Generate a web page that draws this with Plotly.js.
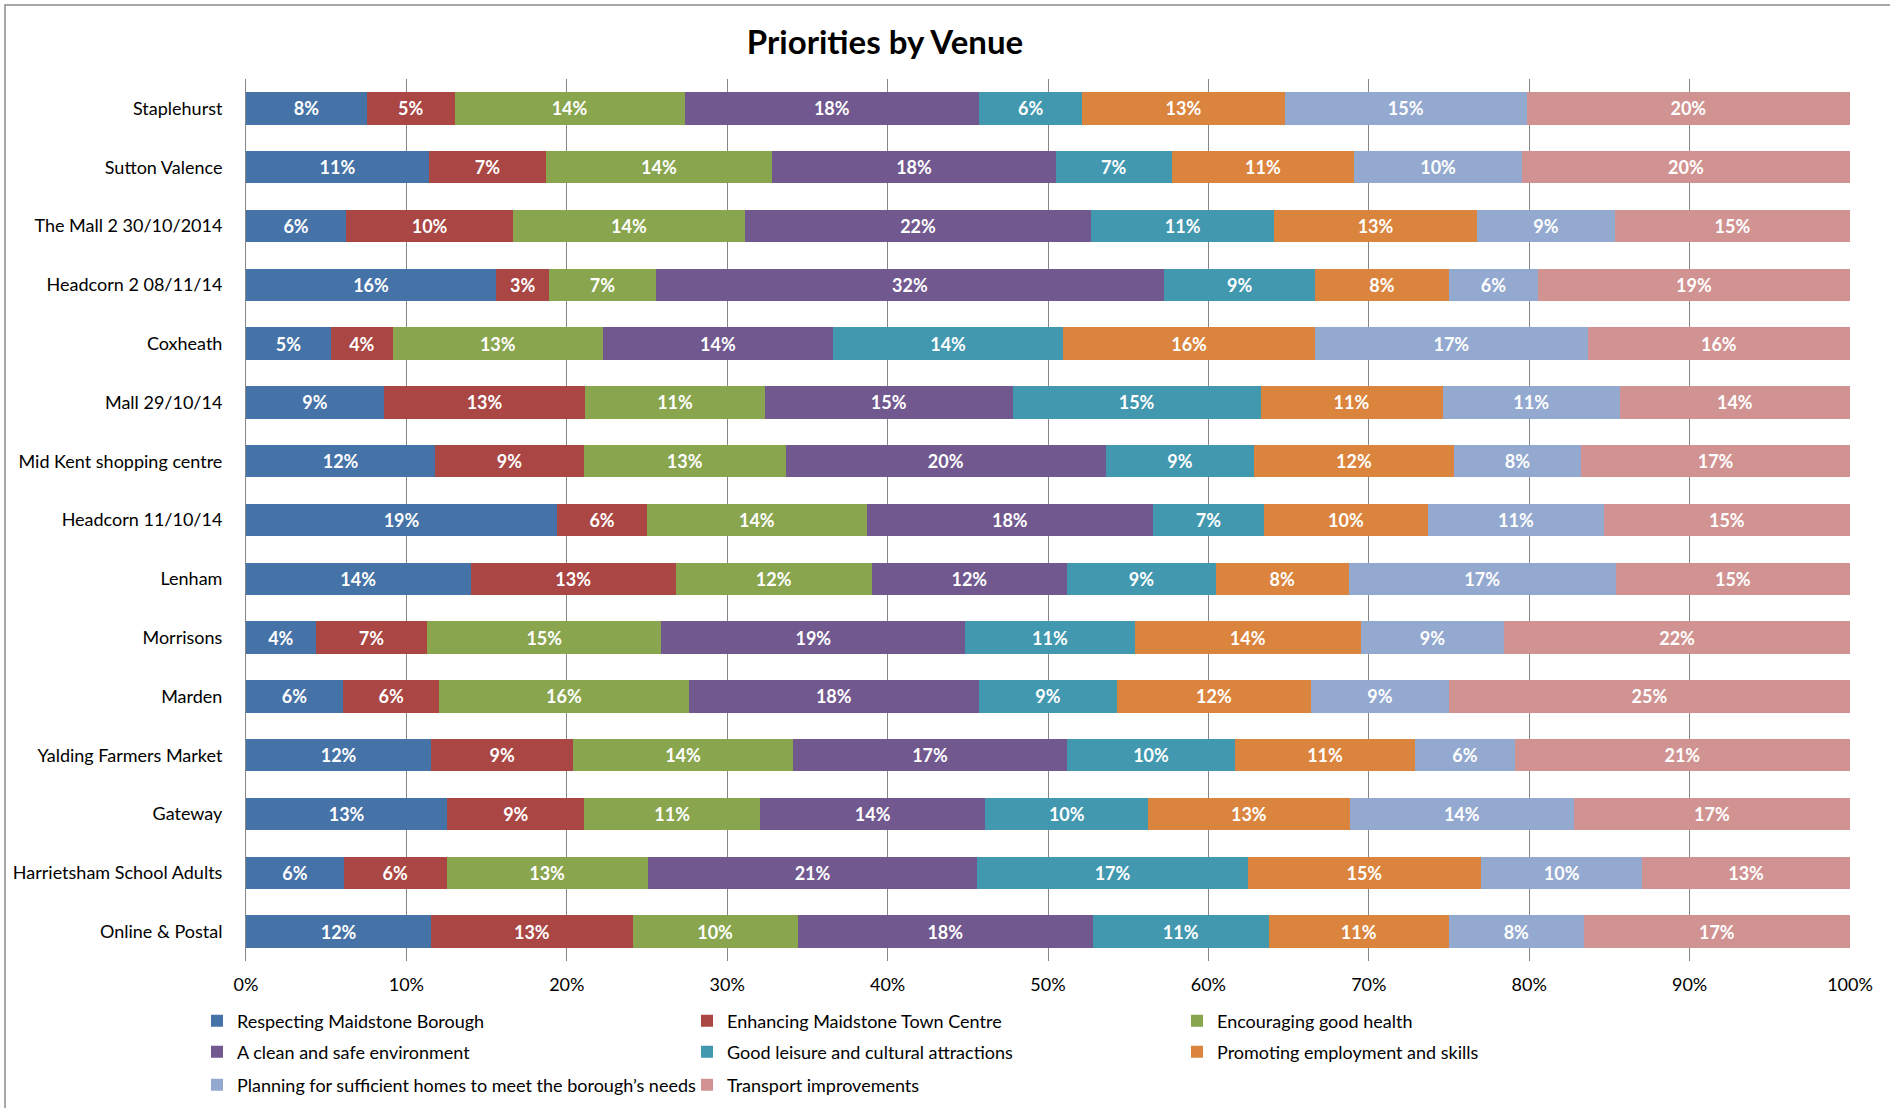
<!DOCTYPE html>
<html>
<head>
<meta charset="utf-8">
<script src="https://cdn.plot.ly/plotly-3.0.1.min.js"></script>
<style>
  html, body { margin: 0; padding: 0; background: #ffffff; }
  #chart { width: 1890px; height: 1108px; }
</style>
</head>
<body>
<div id="chart"></div>
<script>
// Venues, top to bottom
const venues = [
  "Staplehurst",
  "Sutton Valence",
  "The Mall 2 30/10/2014",
  "Headcorn 2 08/11/14",
  "Coxheath",
  "Mall 29/10/14",
  "Mid Kent shopping centre",
  "Headcorn 11/10/14",
  "Lenham",
  "Morrisons",
  "Marden",
  "Yalding Farmers Market",
  "Gateway",
  "Harrietsham School Adults",
  "Online & Postal"
];

// Series names (legend order)
const seriesNames = [
  "Respecting Maidstone Borough",
  "Enhancing Maidstone Town Centre",
  "Encouraging good health",
  "A clean and safe environment",
  "Good leisure and cultural attractions",
  "Promoting employment and skills",
  "Planning for sufficient homes to meet the borough\u2019s needs",
  "Transport improvements"
];

// Share of priorities per venue (%)
const respecting  = [7.55, 11.4, 6.25, 15.6, 5.3, 8.6, 11.8, 19.4, 14.0, 4.35, 6.05, 11.55, 12.55, 6.1, 11.55];
const enhancing   = [5.45, 7.3, 10.4, 3.3, 3.85, 12.55, 9.25, 5.6, 12.8, 6.95, 6.0, 8.85, 8.55, 6.4, 12.55];
const encouraging = [14.35, 14.1, 14.45, 6.65, 13.1, 11.2, 12.6, 13.7, 12.2, 14.6, 15.55, 13.7, 10.95, 12.55, 10.3];
const cleanSafe   = [18.35, 17.7, 21.6, 31.7, 14.35, 15.45, 19.95, 17.85, 12.2, 18.95, 18.1, 17.1, 14.05, 20.55, 18.4];
const leisure     = [6.45, 7.2, 11.4, 9.4, 14.35, 15.45, 9.25, 6.9, 9.25, 10.55, 8.6, 10.45, 10.15, 16.85, 10.95];
const promoting   = [12.6, 11.4, 12.65, 8.35, 15.7, 11.35, 12.45, 10.25, 8.3, 14.1, 12.1, 11.25, 12.55, 14.55, 11.25];
const planning    = [15.1, 10.45, 8.6, 5.55, 17.0, 11.05, 7.95, 10.95, 16.65, 8.95, 8.6, 6.2, 14.0, 10.05, 8.4];
const transport   = [20.15, 20.45, 14.65, 19.45, 16.35, 14.35, 16.75, 15.35, 14.6, 21.55, 25.0, 20.9, 17.2, 12.95, 16.6];

const xTickVals = [0, 10, 20, 30, 40, 50, 60, 70, 80, 90, 100];
const xTickText = ["0%", "10%", "20%", "30%", "40%", "50%", "60%", "70%", "80%", "90%", "100%"];

const seriesValues = [respecting, enhancing, encouraging, cleanSafe, leisure, promoting, planning, transport];
const colors = ["#4572A7", "#AA4643", "#89A54E", "#71588F", "#4198AF", "#DB843D", "#93A9CF", "#D19392"];
const legendIds = ["legend", "legend", "legend", "legend2", "legend2", "legend2", "legend3", "legend3"];

const FONT = "Lato, 'Open Sans', Arial, sans-serif";

const traces = seriesNames.map((name, i) => ({
  type: "bar",
  orientation: "h",
  name: name,
  x: seriesValues[i],
  y: venues,
  legend: legendIds[i],
  marker: { color: colors[i], line: { width: 0 } },
  texttemplate: "%{x:.0f}%",
  textposition: "inside",
  insidetextanchor: "middle",
  textangle: 0,
  constraintext: "none",
  textfont: { family: FONT, size: 18, color: "#ffffff", weight: "bold" },
  hoverinfo: "skip"
}));

// plot area in pixels
const L = 246, R = 1850, T = 79, B = 961;
const PW = R - L, PH = B - T;
const py = (pix) => (B - pix) / PH;
const px = (pix) => (pix - L) / PW;

const legendCommon = {
  orientation: "h",
  entrywidth: 445,
  entrywidthmode: "pixels",
  x: px(197),
  xanchor: "left",
  yanchor: "middle",
  font: { family: FONT, size: 18, color: "#000000" },
  bgcolor: "rgba(0,0,0,0)",
  borderwidth: 0,
  traceorder: "normal"
};

const layout = {
  width: 1890,
  height: 1108,
  paper_bgcolor: "#ffffff",
  plot_bgcolor: "#ffffff",
  margin: { l: L, r: 1890 - R, t: T, b: 1108 - B, pad: 0, autoexpand: false },
  barmode: "stack",
  bargap: 0.447,
  title: {
    text: "Priorities by Venue",
    x: 885 / 1890,
    xref: "container",
    xanchor: "center",
    y: 1 - 42 / 1108,
    yref: "container",
    yanchor: "middle",
    font: { family: FONT, size: 33, color: "#000000", weight: "bold" }
  },
  xaxis: {
    range: [0, 100],
    tickmode: "array",
    tickvals: xTickVals,
    ticktext: xTickText,
    showgrid: true,
    gridcolor: "#878787",
    gridwidth: 1,
    zeroline: false,
    showline: false,
    ticks: "",
    ticklabelstandoff: 11,
    tickfont: { family: FONT, size: 18, color: "#000000" },
    automargin: false,
    fixedrange: true
  },
  yaxis: {
    type: "category",
    autorange: "reversed",
    showgrid: false,
    zeroline: false,
    showline: true,
    linecolor: "#878787",
    linewidth: 1,
    ticks: "",
    ticklabelstandoff: 19,
    tickfont: { family: FONT, size: 18, color: "#000000" },
    automargin: false,
    fixedrange: true
  },
  legend: Object.assign({}, legendCommon, { y: py(1021) }),
  legend2: Object.assign({}, legendCommon, { y: py(1052) }),
  legend3: Object.assign({}, legendCommon, { y: py(1085) }),
  shapes: [
    {
      type: "rect",
      xref: "paper", yref: "paper",
      x0: px(5), x1: px(1900),
      y0: py(1120), y1: py(5),
      line: { color: "#8c8c8c", width: 1.5 },
      fillcolor: "rgba(0,0,0,0)",
      layer: "below"
    }
  ],
  showlegend: true
};

Plotly.newPlot("chart", traces, layout, { displayModeBar: false, staticPlot: true });
</script>
</body>
</html>
